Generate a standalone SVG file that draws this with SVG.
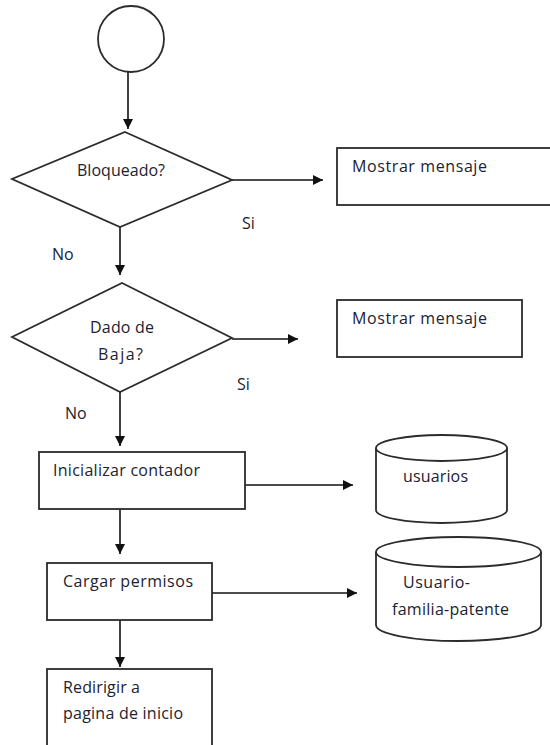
<svg xmlns="http://www.w3.org/2000/svg" width="550" height="745" viewBox="0 0 550 745">
  <style>
    .shape { fill: #fff; stroke: #2b2b2b; stroke-width: 1.8; }
    .edge { fill: none; stroke: #111; stroke-width: 1.6; }
    .lbl { font-family: "Open Sans", "Liberation Sans", sans-serif; font-size: 16px; fill: #1c2230; }
  </style>
  <defs>
    <marker id="arrow" viewBox="0 0 10 10" refX="10" refY="5" markerWidth="10" markerHeight="10" markerUnits="userSpaceOnUse" orient="auto">
      <path d="M0,0 L10,5 L0,10 Z" fill="#111"/>
    </marker>
  </defs>
  <rect width="550" height="745" fill="#fff"/>

  <g id="connectors">
    <line class="edge" x1="128" y1="72" x2="128" y2="129" marker-end="url(#arrow)"/>
    <line class="edge" x1="232" y1="180" x2="323" y2="180" marker-end="url(#arrow)"/>
    <line class="edge" x1="120" y1="227" x2="120" y2="275" marker-end="url(#arrow)"/>
    <line class="edge" x1="232" y1="339" x2="298" y2="339" marker-end="url(#arrow)"/>
    <line class="edge" x1="120" y1="392" x2="120" y2="446" marker-end="url(#arrow)"/>
    <line class="edge" x1="245" y1="485" x2="353" y2="485" marker-end="url(#arrow)"/>
    <line class="edge" x1="120" y1="509" x2="120" y2="554" marker-end="url(#arrow)"/>
    <line class="edge" x1="212" y1="593" x2="357" y2="593" marker-end="url(#arrow)"/>
    <line class="edge" x1="120" y1="620" x2="120" y2="667" marker-end="url(#arrow)"/>
    <text class="lbl" x="242" y="229">Si</text>
    <text class="lbl" x="52" y="260">No</text>
    <text class="lbl" x="237" y="390">Si</text>
    <text class="lbl" x="65" y="419">No</text>
  </g>

  <g id="start">
    <circle class="shape" cx="131" cy="39" r="33"/>
  </g>

  <g id="bloqueado">
    <polygon class="shape" points="125,132 232,180 120,227 12,179"/>
    <text class="lbl" x="77" y="176" textLength="88">Bloqueado?</text>
  </g>

  <g id="mensaje1">
    <rect class="shape" x="337" y="148" width="225" height="57"/>
    <text class="lbl" x="352" y="172" textLength="135">Mostrar mensaje</text>
  </g>

  <g id="baja">
    <polygon class="shape" points="122,283 232,338 120,392 12,337"/>
    <text class="lbl" x="90" y="333" textLength="64">Dado de</text>
    <text class="lbl" x="98" y="360" textLength="45">Baja?</text>
  </g>

  <g id="mensaje2">
    <rect class="shape" x="337" y="300" width="185" height="57"/>
    <text class="lbl" x="352" y="324" textLength="135">Mostrar mensaje</text>
  </g>

  <g id="inicializar">
    <rect class="shape" x="39" y="452" width="206" height="57"/>
    <text class="lbl" x="53" y="476" textLength="147">Inicializar contador</text>
  </g>

  <g id="usuarios">
    <path class="shape" d="M376,448 L376,510 A65.5,13 0 0 0 507,510 L507,448 A65.5,13 0 0 0 376,448 Z"/>
    <path class="shape" d="M376,448 A65.5,13 0 0 0 507,448" fill="none"/>
    <text class="lbl" x="403" y="482" textLength="65">usuarios</text>
  </g>

  <g id="cargar">
    <rect class="shape" x="47" y="563" width="165" height="57"/>
    <text class="lbl" x="63" y="587" textLength="130">Cargar permisos</text>
  </g>

  <g id="permisos-db">
    <path class="shape" d="M376,552 L376,625 A82.5,16 0 0 0 541,625 L541,552 A82.5,15 0 0 0 376,552 Z"/>
    <path class="shape" d="M376,552 A82.5,15 0 0 0 541,552" fill="none"/>
    <text class="lbl" x="403" y="588" textLength="67">Usuario-</text>
    <text class="lbl" x="392" y="615" textLength="117">familia-patente</text>
  </g>

  <g id="redirigir">
    <rect class="shape" x="47" y="669" width="165" height="85"/>
    <text class="lbl" x="63" y="693" textLength="77">Redirigir a</text>
    <text class="lbl" x="63" y="719" textLength="120">pagina de inicio</text>
  </g>
</svg>
